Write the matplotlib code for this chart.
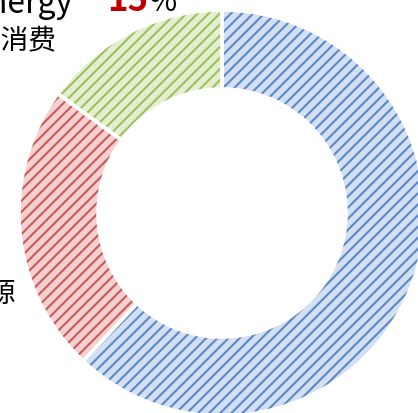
import matplotlib.pyplot as plt

plt.rcParams['font.family'] = ['Noto Sans CJK SC', 'DejaVu Sans']
plt.rcParams['hatch.linewidth'] = 1.5

# energy consumption shares
labels = ['其他', '煤炭', 'Energy']
shares = [62, 23, 15]
fill_colors = ['#d3dff2', '#f5d0d0', '#e4efd0']
hatch_colors = ['#5b88c8', '#c85a58', '#9dbf5e']

W, H = 418, 413
cx, cy, R = 222, 213, 203  # pie centre and radius in pixels
hole = 124


def px(x, y):
    # pixel position -> data coordinates (pie radius = 1)
    return (x - cx) / R, (cy - y) / R


fig = plt.figure(figsize=(W / 100, H / 100), dpi=100)
ax = fig.add_axes([0, 0, 1, 1])

ring = dict(width=1 - hole / R)
ax.pie(shares, colors=fill_colors, startangle=90, counterclock=False,
       wedgeprops=dict(ring, linewidth=0))
hatched, _ = ax.pie(shares, colors=['none'] * 3, startangle=90, counterclock=False,
                    wedgeprops=dict(ring, linewidth=0))
for w, hc in zip(hatched, hatch_colors):
    w.set_hatch('///')
    w.set_edgecolor(hc)
    w.set_facecolor('none')
ax.pie(shares, colors=['none'] * 3, startangle=90, counterclock=False,
       wedgeprops=dict(ring, linewidth=2.6, edgecolor='white'))

ax.set_xlim(px(0, 0)[0], px(W, 0)[0])
ax.set_ylim(px(0, H)[1], px(0, 0)[1])
ax.set_aspect('auto')
ax.axis('off')

# label for the green slice
x, y = px(73, 13)
ax.text(x, y, 'Energy', ha='right', va='baseline', fontsize=23)
x, y = px(107, 11)
ax.text(x, y, f'{shares[2]}', ha='left', va='baseline', fontsize=25,
        color='#c00000', fontweight='bold')
x, y = px(149, 11)
ax.text(x, y, '%', ha='left', va='baseline', fontsize=22)
x, y = px(56, 49)
ax.text(x, y, '能源消费', ha='right', va='baseline', fontsize=20)

# label for the red slice
x, y = px(16, 302)
ax.text(x, y, '能源', ha='right', va='baseline', fontsize=20)

fig.savefig('out.png', dpi=100)
